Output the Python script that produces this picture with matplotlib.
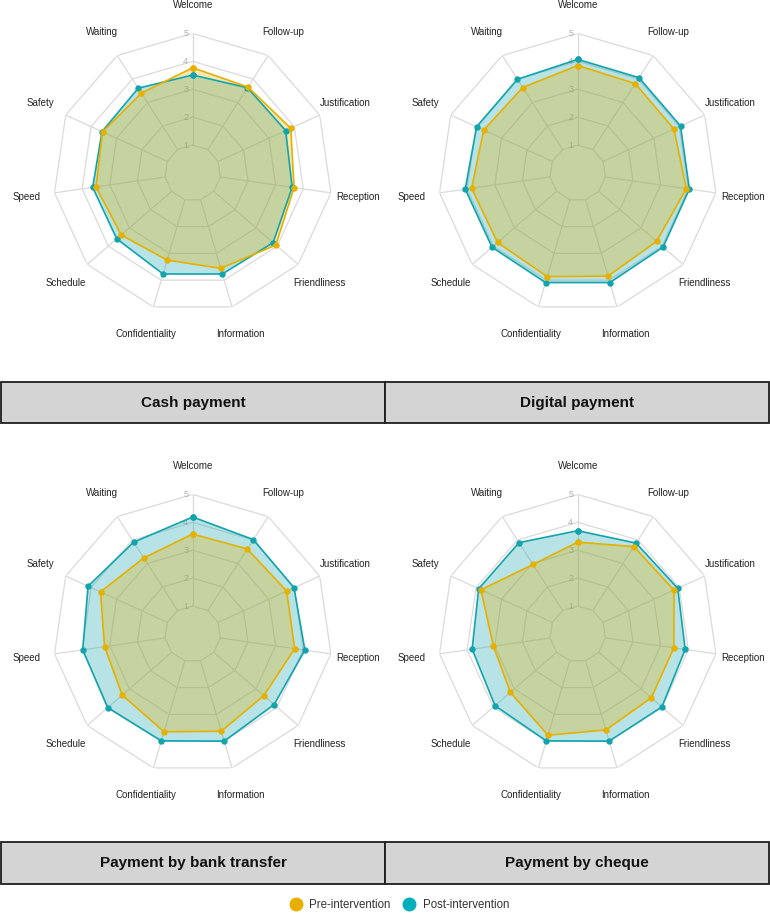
import numpy as np
import matplotlib
matplotlib.use('Agg')
import matplotlib.pyplot as plt
from matplotlib.patches import Rectangle
from matplotlib.lines import Line2D

plt.rcParams['font.family'] = ['Liberation Sans', 'DejaVu Sans']

# data
categories = ['Welcome', 'Follow-up', 'Justification', 'Reception', 'Friendliness',
              'Information', 'Confidentiality', 'Schedule', 'Speed', 'Safety', 'Waiting']

cash_pre = [3.77, 3.66, 3.86, 3.67, 3.94, 3.56, 3.25, 3.39, 3.50, 3.55, 3.40]
cash_post = [3.51, 3.63, 3.66, 3.60, 3.81, 3.77, 3.77, 3.60, 3.62, 3.57, 3.61]
digital_pre = [3.85, 3.81, 3.79, 3.93, 3.74, 3.85, 3.87, 3.80, 3.84, 3.70, 3.64]
digital_post = [4.07, 4.06, 4.05, 4.04, 4.05, 4.09, 4.09, 4.06, 4.07, 3.98, 3.99]
bank_pre = [3.58, 3.62, 3.70, 3.69, 3.37, 3.63, 3.65, 3.34, 3.19, 3.63, 3.24]
bank_post = [4.19, 4.02, 3.99, 4.06, 3.86, 4.00, 3.99, 4.03, 3.98, 4.12, 3.91]
cheque_pre = [3.29, 3.72, 3.79, 3.48, 3.49, 3.58, 3.78, 3.19, 3.05, 3.81, 2.96]
cheque_post = [3.70, 3.87, 3.94, 3.89, 3.99, 4.00, 3.99, 3.92, 3.82, 3.90, 3.89]

panel_titles = ['Cash payment', 'Digital payment', 'Payment by bank transfer', 'Payment by cheque']
series_labels = ['Pre-intervention', 'Post-intervention']
levels = [1, 2, 3, 4, 5]

PRE_COL = '#E7B000'
POST_COL = '#12A4AD'
GRID_COL = '#dadada'

W, H = 770, 914
fig = plt.figure(figsize=(W / 100, H / 100), dpi=100)

n = len(categories)
theta = np.arange(n) * 2 * np.pi / n
theta_c = np.append(theta, theta[0])

R5 = 139.6  # pixel radius of the level-5 ring


def radar(cx, cy, pre, post):
    ax = fig.add_axes([(cx - R5) / W, 1 - (cy + R5) / H, 2 * R5 / W, 2 * R5 / H],
                      projection='polar')
    ax.set_theta_zero_location('N')
    ax.set_theta_direction(-1)
    ax.set_ylim(0, 5)
    ax.set_axis_off()
    # polygon grid
    for lv in levels:
        ax.plot(theta_c, [lv] * (n + 1), color=GRID_COL, lw=0.9, zorder=1)
    for t in theta:
        ax.plot([t, t], [levels[0], levels[-1]], color=GRID_COL, lw=0.9, zorder=1)
    for lv in levels:
        ax.annotate(str(lv), xy=(0, lv), xytext=(-5, 0), textcoords='offset points',
                    ha='center', va='center', fontsize=6.5, color='#b0b0b0', zorder=2)
    # series: post first, pre on top
    for vals, col in [(post, POST_COL), (pre, PRE_COL)]:
        v = np.append(vals, vals[0])
        ax.fill(theta_c, v, color=col, alpha=0.3, lw=0, zorder=3)
        ax.plot(theta_c, v, color=col, lw=1.2, marker='o', markersize=3.6, zorder=4)
    for t, name in zip(theta, categories):
        ax.text(t, 6.0, name, ha='center', va='center', fontsize=7, color='#222222',
                clip_on=False)
    return ax


radar(192.7, 173, cash_pre, cash_post)
radar(577.7, 173, digital_pre, digital_post)
radar(192.7, 634, bank_pre, bank_post)
radar(577.7, 634, cheque_pre, cheque_post)

# header strips
for (top, bot), titles in [((382, 423), panel_titles[:2]), ((842, 884), panel_titles[2:])]:
    for k, (x0, x1) in enumerate([(1, 385), (385, 769)]):
        fig.add_artist(Rectangle((x0 / W, 1 - bot / H), (x1 - x0) / W, (bot - top) / H,
                                 transform=fig.transFigure, facecolor='#d4d4d4',
                                 edgecolor='#1e1e1e', lw=1.3))
        fig.text((x0 + x1) / 2 / W, 1 - (top + bot) / 2 / H, titles[k], ha='center',
                 va='center', fontsize=11, fontweight='bold', color='#111111')

handles = [Line2D([], [], ls='none', marker='o', markersize=9, color=PRE_COL),
           Line2D([], [], ls='none', marker='o', markersize=9, color='#00AFBB')]
fig.legend(handles, series_labels, loc='center', bbox_to_anchor=(399 / W, 1 - 905 / H),
           ncol=2, frameon=False, fontsize=8.3, handletextpad=0.6, columnspacing=1.0,
           handlelength=1.2, labelcolor='#333333')

fig.savefig('out.png', dpi=100)
